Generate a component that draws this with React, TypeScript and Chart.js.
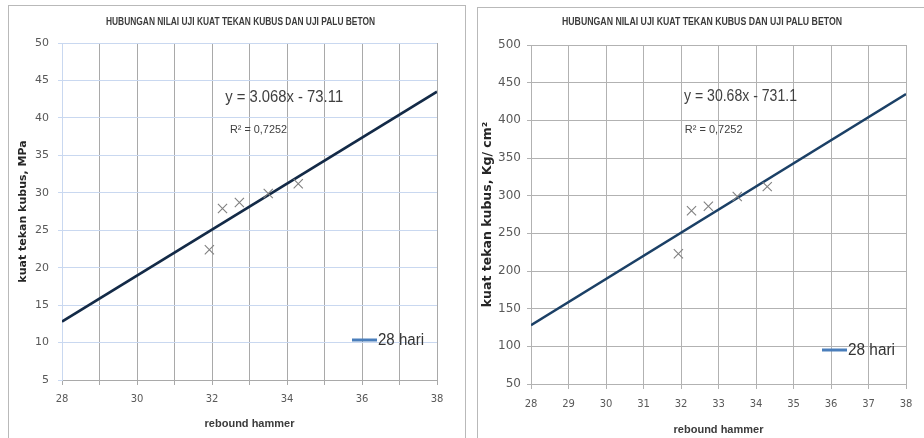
import React, { useEffect, useRef } from 'react';
import { Chart, registerables } from 'chart.js';

Chart.register(...registerables);

// ---------- data ----------
const chartTitle = 'HUBUNGAN NILAI UJI KUAT TEKAN KUBUS DAN UJI PALU BETON';
const xAxisTitle = 'rebound hammer';
const seriesName = '28 hari';

const reboundHammer = [31.93, 32.28, 32.73, 33.5, 34.3];
const strengthMPa = [22.4, 27.9, 28.7, 29.9, 31.2];
const strengthKg = [223, 280, 286, 299, 312];

const trendX = [28, 38];
const trendMPa = [12.8, 43.5];
const trendKg = [128, 435];

const xRange = [28, 38];
const mpaRange = [5, 50];
const kgRange = [50, 500];
const mpaStep = 5;
const kgStep = 50;

const eqMPa = 'y = 3.068x - 73.11';
const eqKg = 'y = 30.68x - 731.1';
const r2Label = 'R\u00B2 = 0,7252';

const yTitleMPa = 'kuat tekan kubus, MPa';
const yTitleKg = 'kuat tekan kubus, Kg/ cm\u00B2';

// ---------- layout / styling specs ----------
const SANS = '"Liberation Sans", Arial, sans-serif';
const DEJAVU = '"DejaVu Sans", sans-serif';

type Spec = {
  key: string;
  left: number; top: number; w: number; h: number;
  padRight: number; yAxisW: number; xAxisH: number;
  xs: number[]; ys: number[]; trend: number[];
  yRange: number[]; yStep: number;
  evenOnly: boolean;
  vGrid: string; hGrid: string; yBorder: string; xBorder: string;
  trendColor: string;
  yTitle: string; yTitleSize: number; yTitlePad: number;
  yTickSize: number; yTickPad: number;
  xTickPad: number; xTitlePad: number;
  eq: string; eqPos: { x: number; y: number }; eqW: number;
  r2Pos: { x: number; y: number }; r2W: number;
  titleX: number; titleY: number; titleW: number;
  legDx: number; legDy: number; legW: number;
};

const specs: Spec[] = [
  {
    key: 'mpa', left: 8, top: 5, w: 457, h: 433,
    padRight: 28, yAxisW: 54, xAxisH: 58,
    xs: reboundHammer, ys: strengthMPa, trend: trendMPa,
    yRange: mpaRange, yStep: mpaStep, evenOnly: true,
    vGrid: '#a9a9a9', hGrid: '#c9d8f0', yBorder: '#c9d8f0', xBorder: '#a9a9a9',
    trendColor: '#132a47',
    yTitle: yTitleMPa, yTitleSize: 11, yTitlePad: 9,
    yTickSize: 11, yTickPad: 9,
    xTickPad: 8, xTitlePad: 7,
    eq: eqMPa, eqPos: { x: 32.35, y: 42.8 }, eqW: 118,
    r2Pos: { x: 32.48, y: 38.4 }, r2W: 57,
    titleX: 232.5, titleY: 17, titleW: 269,
    legDx: 85, legDy: 40, legW: 46,
  },
  {
    key: 'kg', left: 477, top: 7, w: 447, h: 431,
    padRight: 18, yAxisW: 54, xAxisH: 54,
    xs: reboundHammer, ys: strengthKg, trend: trendKg,
    yRange: kgRange, yStep: kgStep, evenOnly: false,
    vGrid: '#b2b2b2', hGrid: '#b2b2b2', yBorder: '#b2b2b2', xBorder: '#b2b2b2',
    trendColor: '#1b4066',
    yTitle: yTitleKg, yTitleSize: 12.5, yTitlePad: 3,
    yTickSize: 12, yTickPad: 6,
    xTickPad: 9, xTitlePad: 1,
    eq: eqKg, eqPos: { x: 32.08, y: 432 }, eqW: 113,
    r2Pos: { x: 32.1, y: 387 }, r2W: 59,
    titleX: 225, titleY: 15.5, titleW: 280,
    legDx: 84, legDy: 34, legW: 47,
  },
];

function annotationPlugin(spec: Spec) {
  return {
    id: 'annot_' + spec.key,
    afterDatasetsDraw(chart: any) {
      const { ctx, chartArea, scales } = chart;
      const x = scales.x;
      const y = scales.y;
      ctx.save();
      // chart title
      ctx.fillStyle = '#3b3b3b';
      ctx.font = `bold 10.5px ${SANS}`;
      ctx.textAlign = 'center';
      ctx.textBaseline = 'middle';
      ctx.fillText(chartTitle, spec.titleX, spec.titleY, spec.titleW);
      // equation
      ctx.textAlign = 'left';
      ctx.fillStyle = '#404040';
      ctx.font = `17px ${SANS}`;
      ctx.fillText(spec.eq, x.getPixelForValue(spec.eqPos.x), y.getPixelForValue(spec.eqPos.y), spec.eqW);
      // R squared
      ctx.font = `11px ${SANS}`;
      ctx.fillText(r2Label, x.getPixelForValue(spec.r2Pos.x), y.getPixelForValue(spec.r2Pos.y), spec.r2W);
      // legend
      const lx = chartArea.right - spec.legDx;
      const ly = chartArea.bottom - spec.legDy;
      ctx.strokeStyle = '#4a7ebb';
      ctx.lineWidth = 3;
      ctx.beginPath();
      ctx.moveTo(lx, ly);
      ctx.lineTo(lx + 25, ly);
      ctx.stroke();
      ctx.fillStyle = '#333333';
      ctx.font = `16px ${SANS}`;
      ctx.fillText(seriesName, lx + 26, ly + 1, spec.legW);
      ctx.restore();
    },
  };
}

function buildConfig(spec: Spec): any {
  const tickColor = '#595959';
  return {
    type: 'scatter',
    data: {
      datasets: [
        {
          type: 'line',
          label: seriesName,
          data: trendX.map((v, i) => ({ x: v, y: spec.trend[i] })),
          borderColor: spec.trendColor,
          borderWidth: 2.5,
          pointRadius: 0,
          fill: false,
          order: 2,
        },
        {
          type: 'scatter',
          label: 'data',
          data: spec.xs.map((v, i) => ({ x: v, y: spec.ys[i] })),
          pointStyle: 'crossRot',
          pointRadius: 6.5,
          borderColor: '#808080',
          borderWidth: 1.1,
          backgroundColor: 'rgba(0,0,0,0)',
          order: 1,
        },
      ],
    },
    options: {
      responsive: false,
      animation: false,
      events: [],
      layout: { padding: { top: 38, right: spec.padRight, left: 0, bottom: 0 } },
      plugins: {
        legend: { display: false },
        title: { display: false },
        tooltip: { enabled: false },
      },
      scales: {
        x: {
          type: 'linear',
          min: xRange[0],
          max: xRange[1],
          afterFit: (s: any) => { s.height = spec.xAxisH; },
          ticks: {
            stepSize: 1,
            autoSkip: false,
            maxRotation: 0,
            padding: spec.xTickPad,
            color: tickColor,
            font: { family: DEJAVU, size: 10 },
            callback: (v: number) => (spec.evenOnly && Math.round(v) % 2 !== 0 ? '' : String(Math.round(v))),
          },
          grid: {
            color: (c: any) => (c.index === 0 ? 'rgba(0,0,0,0)' : spec.vGrid),
            tickColor: spec.vGrid,
            tickLength: 5,
            lineWidth: 1,
          },
          border: { color: spec.xBorder, width: 1 },
          title: {
            display: true,
            text: xAxisTitle,
            color: '#3b3b3b',
            font: { family: SANS, size: 11, weight: 'bold' },
            padding: { top: 0, bottom: spec.xTitlePad },
          },
        },
        y: {
          type: 'linear',
          min: spec.yRange[0],
          max: spec.yRange[1],
          afterFit: (s: any) => { s.width = spec.yAxisW; },
          ticks: {
            stepSize: spec.yStep,
            autoSkip: false,
            padding: spec.yTickPad,
            color: tickColor,
            font: { family: DEJAVU, size: spec.yTickSize },
          },
          grid: {
            color: (c: any) => (c.index === 0 ? 'rgba(0,0,0,0)' : spec.hGrid),
            tickColor: spec.hGrid,
            tickLength: 4,
            lineWidth: 1,
          },
          border: { color: spec.yBorder, width: 1 },
          title: {
            display: true,
            text: spec.yTitle,
            color: '#262626',
            font: { family: DEJAVU, size: spec.yTitleSize, weight: 'bold' },
            padding: { top: spec.yTitlePad, bottom: 0 },
          },
        },
      },
    },
    plugins: [annotationPlugin(spec)],
  };
}

function ScatterPanel({ spec }: { spec: Spec }) {
  const ref = useRef<HTMLCanvasElement>(null);
  useEffect(() => {
    if (!ref.current) return;
    const chart = new Chart(ref.current, buildConfig(spec));
    return () => chart.destroy();
  }, [spec]);
  return (
    <>
      <canvas
        ref={ref}
        width={spec.w}
        height={spec.h}
        style={{ position: 'absolute', left: spec.left, top: spec.top, width: spec.w, height: spec.h }}
      />
      <div
        style={{
          position: 'absolute',
          left: spec.left,
          top: spec.top,
          width: spec.w + 1,
          height: 460,
          border: '1px solid #b9b9b9',
          boxSizing: 'border-box',
          pointerEvents: 'none',
        }}
      />
    </>
  );
}

export default function App() {
  return (
    <div
      style={{
        position: 'absolute',
        left: 0,
        top: 0,
        width: 924,
        height: 438,
        overflow: 'hidden',
        background: '#ffffff',
      }}
    >
      {specs.map((s) => (
        <ScatterPanel key={s.key} spec={s} />
      ))}
    </div>
  );
}
